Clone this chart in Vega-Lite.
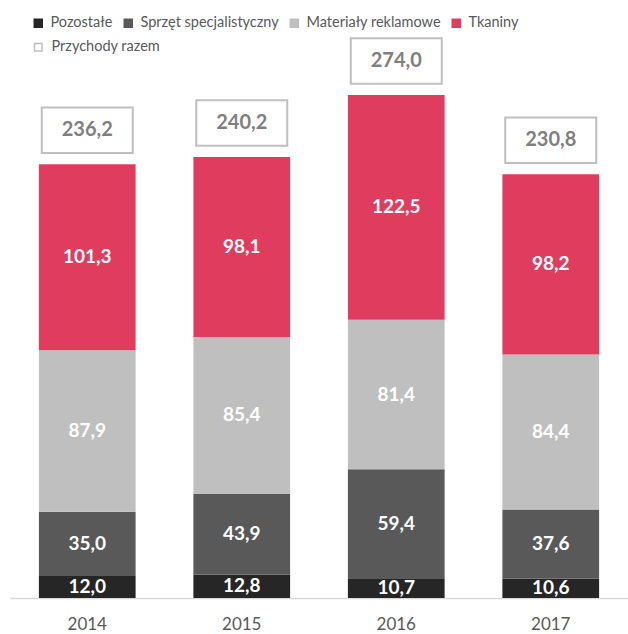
{
  "$schema": "https://vega.github.io/schema/vega-lite/v6.json",
  "width": 618,
  "height": 538,
  "autosize": "none",
  "padding": {"left": 10, "top": 60, "right": 0, "bottom": 36},
  "config": {
    "view": {"stroke": null},
    "font": "Lato",
    "locale": {"number": {"decimal": ",", "thousands": " ", "grouping": [3], "currency": ["", " zł"]}}
  },
  "datasets": {
    "segments": [
      {"year": "2014", "category": "Pozostałe", "value": 12.0},
      {"year": "2014", "category": "Sprzęt specjalistyczny", "value": 35.0},
      {"year": "2014", "category": "Materiały reklamowe", "value": 87.9},
      {"year": "2014", "category": "Tkaniny", "value": 101.3},
      {"year": "2015", "category": "Pozostałe", "value": 12.8},
      {"year": "2015", "category": "Sprzęt specjalistyczny", "value": 43.9},
      {"year": "2015", "category": "Materiały reklamowe", "value": 85.4},
      {"year": "2015", "category": "Tkaniny", "value": 98.1},
      {"year": "2016", "category": "Pozostałe", "value": 10.7},
      {"year": "2016", "category": "Sprzęt specjalistyczny", "value": 59.4},
      {"year": "2016", "category": "Materiały reklamowe", "value": 81.4},
      {"year": "2016", "category": "Tkaniny", "value": 122.5},
      {"year": "2017", "category": "Pozostałe", "value": 10.6},
      {"year": "2017", "category": "Sprzęt specjalistyczny", "value": 37.6},
      {"year": "2017", "category": "Materiały reklamowe", "value": 84.4},
      {"year": "2017", "category": "Tkaniny", "value": 98.2}
    ],
    "totals": [
      {"year": "2014", "total": 236.2},
      {"year": "2015", "total": 240.2},
      {"year": "2016", "total": 274.0},
      {"year": "2017", "total": 230.8}
    ]
  },
  "encoding": {
    "x": {
      "field": "year",
      "type": "ordinal",
      "scale": {"paddingInner": 0.374, "paddingOuter": 0.187},
      "axis": {
        "title": null,
        "labelAngle": 0,
        "ticks": false,
        "domainColor": "#d9d9d9",
        "domainWidth": 1.5,
        "labelColor": "#595959",
        "labelFontSize": 17,
        "labelPadding": 18
      }
    }
  },
  "layer": [
    {
      "data": {"name": "segments"},
      "mark": {"type": "bar"},
      "encoding": {
        "y": {"field": "value", "type": "quantitative", "stack": "zero", "scale": {"domain": [0, 293], "nice": false}, "axis": null},
        "order": {"field": "value", "type": "quantitative", "sort": "ascending"},
        "color": {
          "field": "category",
          "type": "nominal",
          "sort": ["Pozostałe", "Sprzęt specjalistyczny", "Materiały reklamowe", "Tkaniny"],
          "scale": {"range": ["#262626", "#595959", "#bfbfbf", "#e03c5e"]},
          "legend": {
            "orient": "none",
            "legendX": 21,
            "legendY": -44,
            "direction": "horizontal",
            "gridAlign": "none",
            "title": null,
            "symbolType": "square",
            "symbolSize": 90,
            "symbolStrokeWidth": 0,
            "labelFontSize": 14.5,
            "labelColor": "#595959",
            "columnPadding": 8,
            "labelOffset": 5,
            "padding": 0
          }
        }
      }
    },
    {
      "data": {"name": "segments"},
      "mark": {"type": "text", "fontWeight": "bold", "fontSize": 19, "baseline": "middle"},
      "encoding": {
        "y": {"field": "value", "type": "quantitative", "stack": "zero", "bandPosition": 0.5},
        "order": {"field": "value", "type": "quantitative", "sort": "ascending"},
        "text": {"field": "value", "type": "quantitative", "format": ".1f"},
        "color": {
          "field": "category",
          "type": "nominal",
          "sort": ["Pozostałe", "Sprzęt specjalistyczny", "Materiały reklamowe", "Tkaniny"],
          "scale": {"range": ["#ffffff", "#ffffff", "#ffffff", "#ffffff"]},
          "legend": null
        }
      }
    },
    {
      "data": {"name": "totals"},
      "mark": {
        "type": "point",
        "shape": "M-1,-0.5H1V0.5H-1Z",
        "filled": true,
        "fill": "white",
        "size": 8281,
        "strokeWidth": 2,
        "yOffset": -34,
        "opacity": 1
      },
      "encoding": {
        "y": {"field": "total", "type": "quantitative"},
        "stroke": {
          "datum": "Przychody razem",
          "scale": {"range": ["#bfbfbf"]},
          "legend": {
            "orient": "none",
            "legendX": 21,
            "legendY": -20,
            "title": null,
            "symbolType": "square",
            "symbolSize": 56,
            "symbolFillColor": "white",
            "symbolStrokeWidth": 1.5,
            "labelFontSize": 14.5,
            "labelColor": "#595959",
            "labelOffset": 6,
            "padding": 0
          }
        }
      }
    },
    {
      "data": {"name": "totals"},
      "mark": {"type": "text", "dy": -34, "fontWeight": "bold", "fontSize": 20, "color": "#7f7f7f", "baseline": "middle"},
      "encoding": {
        "y": {"field": "total", "type": "quantitative"},
        "text": {"field": "total", "type": "quantitative", "format": ".1f"}
      }
    }
  ],
  "resolve": {"scale": {"color": "independent"}}
}
